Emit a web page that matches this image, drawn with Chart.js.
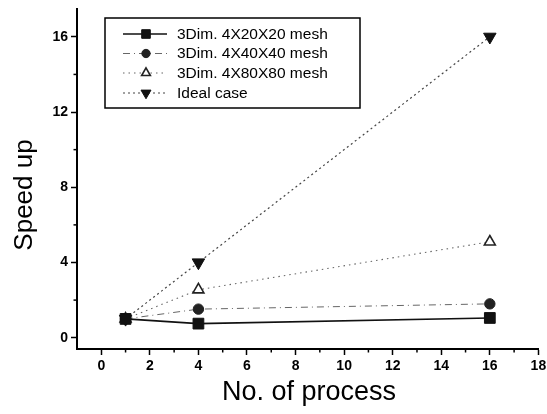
<!DOCTYPE html>
<html>
<head>
<meta charset="utf-8">
<script src="https://cdn.jsdelivr.net/npm/chart.js@4/dist/chart.umd.min.js"></script>
<style>
html,body{margin:0;padding:0;background:#fff;}
#wrap{width:547px;height:414px;position:relative;}
</style>
</head>
<body>
<div id="wrap"><canvas id="c" width="547" height="414"></canvas></div>
<script>
// ---- data ----
const processes = [1, 4, 16];
const mesh20 = [1.0, 0.75, 1.05];
const mesh40 = [1.0, 1.52, 1.8];
const mesh80 = [1.0, 2.55, 5.1];
const ideal = [1.0, 4.0, 16.0];
const seriesNames = ['3Dim. 4X20X20 mesh', '3Dim. 4X40X40 mesh', '3Dim. 4X80X80 mesh', 'Ideal case'];
const xTicks = [0, 2, 4, 6, 8, 10, 12, 14, 16, 18];
const xMinor = [1, 3, 5, 7, 9, 11, 13, 15, 17];
const yTicks = [0, 4, 8, 12, 16];
const yMinor = [2, 6, 10, 14];
const xTitle = 'No. of process';
const yTitle = 'Speed up';

const pts = (ys) => processes.map((x, i) => ({x: x, y: ys[i]}));

const datasets = [
  {label: seriesNames[0], data: pts(mesh20), borderColor: '#111', backgroundColor: '#111',
   borderWidth: 1.6, borderDash: [], pointStyle: 'rect', pointRadius: 7.6, pointRotation: 0,
   pointBackgroundColor: '#111', pointBorderColor: '#111', pointBorderWidth: 1},
  {label: seriesNames[1], data: pts(mesh40), borderColor: '#666', backgroundColor: '#222',
   borderWidth: 1, borderDash: [7, 4, 1, 4], pointStyle: 'circle', pointRadius: 5.2, pointRotation: 0,
   pointBackgroundColor: '#222', pointBorderColor: '#222', pointBorderWidth: 1},
  {label: seriesNames[2], data: pts(mesh80), borderColor: '#666', backgroundColor: '#fff',
   borderWidth: 1.1, borderDash: [1.5, 4], pointStyle: 'triangle', pointRadius: 6.3, pointRotation: 0,
   pointBackgroundColor: '#fff', pointBorderColor: '#222', pointBorderWidth: 1.6},
  {label: seriesNames[3], data: pts(ideal), borderColor: '#444', backgroundColor: '#111',
   borderWidth: 1.2, borderDash: [2, 3], pointStyle: 'triangle', pointRadius: 7.2, pointRotation: 180,
   pointBackgroundColor: '#111', pointBorderColor: '#111', pointBorderWidth: 1}
];
datasets.forEach(d => { d.showLine = true; d.fill = false; d.tension = 0; });

function drawMarker(ctx, style, r, rot, fill, stroke, bw, x, y) {
  if (Chart.helpers && Chart.helpers.drawPoint) {
    ctx.save();
    ctx.fillStyle = fill; ctx.strokeStyle = stroke; ctx.lineWidth = bw; ctx.setLineDash([]);
    Chart.helpers.drawPoint(ctx, {pointStyle: style, radius: r, rotation: rot, borderWidth: bw}, x, y);
    ctx.restore();
  }
}

const extras = {
  id: 'extras',
  afterDraw(chart) {
    const ctx = chart.ctx;
    const xs = chart.scales.x, ys = chart.scales.y;
    ctx.save();
    // minor ticks
    ctx.strokeStyle = '#000'; ctx.lineWidth = 1.5; ctx.setLineDash([]);
    xMinor.forEach(v => {
      const px = xs.getPixelForValue(v);
      ctx.beginPath(); ctx.moveTo(px, xs.top); ctx.lineTo(px, xs.top + 3.5); ctx.stroke();
    });
    yMinor.forEach(v => {
      const py = ys.getPixelForValue(v);
      ctx.beginPath(); ctx.moveTo(ys.right, py); ctx.lineTo(ys.right - 3.5, py); ctx.stroke();
    });
    // axis titles
    ctx.fillStyle = '#000';
    ctx.font = '27px "Liberation Sans", Arial, sans-serif';
    ctx.textAlign = 'center'; ctx.textBaseline = 'middle';
    ctx.fillText(xTitle, 309, 393);
    ctx.save();
    ctx.translate(25, 195); ctx.rotate(-Math.PI / 2);
    ctx.font = '26px "Liberation Sans", Arial, sans-serif';
    ctx.fillText(yTitle, 0, 0);
    ctx.restore();
    // legend box
    const bx = 105, by = 18, bw = 255, bh = 90;
    ctx.fillStyle = '#fff';
    ctx.fillRect(bx, by, bw, bh);
    ctx.strokeStyle = '#000'; ctx.lineWidth = 1.5;
    ctx.strokeRect(bx, by, bw, bh);
    const rowsY = [34, 53.5, 73, 93];
    chart.data.datasets.forEach((d, i) => {
      const y = rowsY[i];
      ctx.save();
      ctx.strokeStyle = d.borderColor; ctx.lineWidth = d.borderWidth;
      ctx.setLineDash(d.borderDash || []);
      ctx.beginPath(); ctx.moveTo(123, y); ctx.lineTo(167, y); ctx.stroke();
      ctx.restore();
      drawMarker(ctx, d.pointStyle, d.pointRadius * 0.8, d.pointRotation, d.pointBackgroundColor,
        d.pointBorderColor, d.pointBorderWidth, 146, y);
      ctx.fillStyle = '#000';
      ctx.font = '15.5px "Liberation Sans", Arial, sans-serif';
      ctx.textAlign = 'left'; ctx.textBaseline = 'middle';
      ctx.fillText(d.label, 177, y + 0.5);
    });
    ctx.restore();
  }
};

new Chart(document.getElementById('c'), {
  type: 'scatter',
  data: {datasets: datasets},
  options: {
    responsive: false,
    animation: false,
    layout: {padding: {top: 8, right: 7, left: 0, bottom: 0}},
    plugins: {legend: {display: false}, tooltip: {enabled: false}},
    elements: {point: {hoverRadius: 0}},
    scales: {
      x: {
        type: 'linear', min: -1, max: 18,
        afterBuildTicks: (s) => { s.ticks = xTicks.map(v => ({value: v})); },
        afterFit: (s) => { s.height = 65; s.paddingLeft = 0; s.paddingRight = 0; },
        grid: {drawOnChartArea: false, drawTicks: true, tickLength: 6, tickWidth: 1.5, tickColor: '#000'},
        border: {display: true, color: '#000', width: 2},
        ticks: {color: '#000', padding: 3, maxRotation: 0, autoSkip: false,
          font: {family: '"Liberation Sans", Arial, sans-serif', size: 14, weight: 'bold'}}
      },
      y: {
        type: 'linear', min: -0.6, max: 17.5,
        afterBuildTicks: (s) => { s.ticks = yTicks.map(v => ({value: v})); },
        afterFit: (s) => { s.width = 77; s.paddingTop = 0; s.paddingBottom = 0; },
        grid: {drawOnChartArea: false, drawTicks: true, tickLength: 6, tickWidth: 1.5, tickColor: '#000'},
        border: {display: true, color: '#000', width: 2},
        ticks: {color: '#000', padding: 3, autoSkip: false,
          font: {family: '"Liberation Sans", Arial, sans-serif', size: 14, weight: 'bold'}}
      }
    }
  },
  plugins: [extras]
});
</script>
</body>
</html>
